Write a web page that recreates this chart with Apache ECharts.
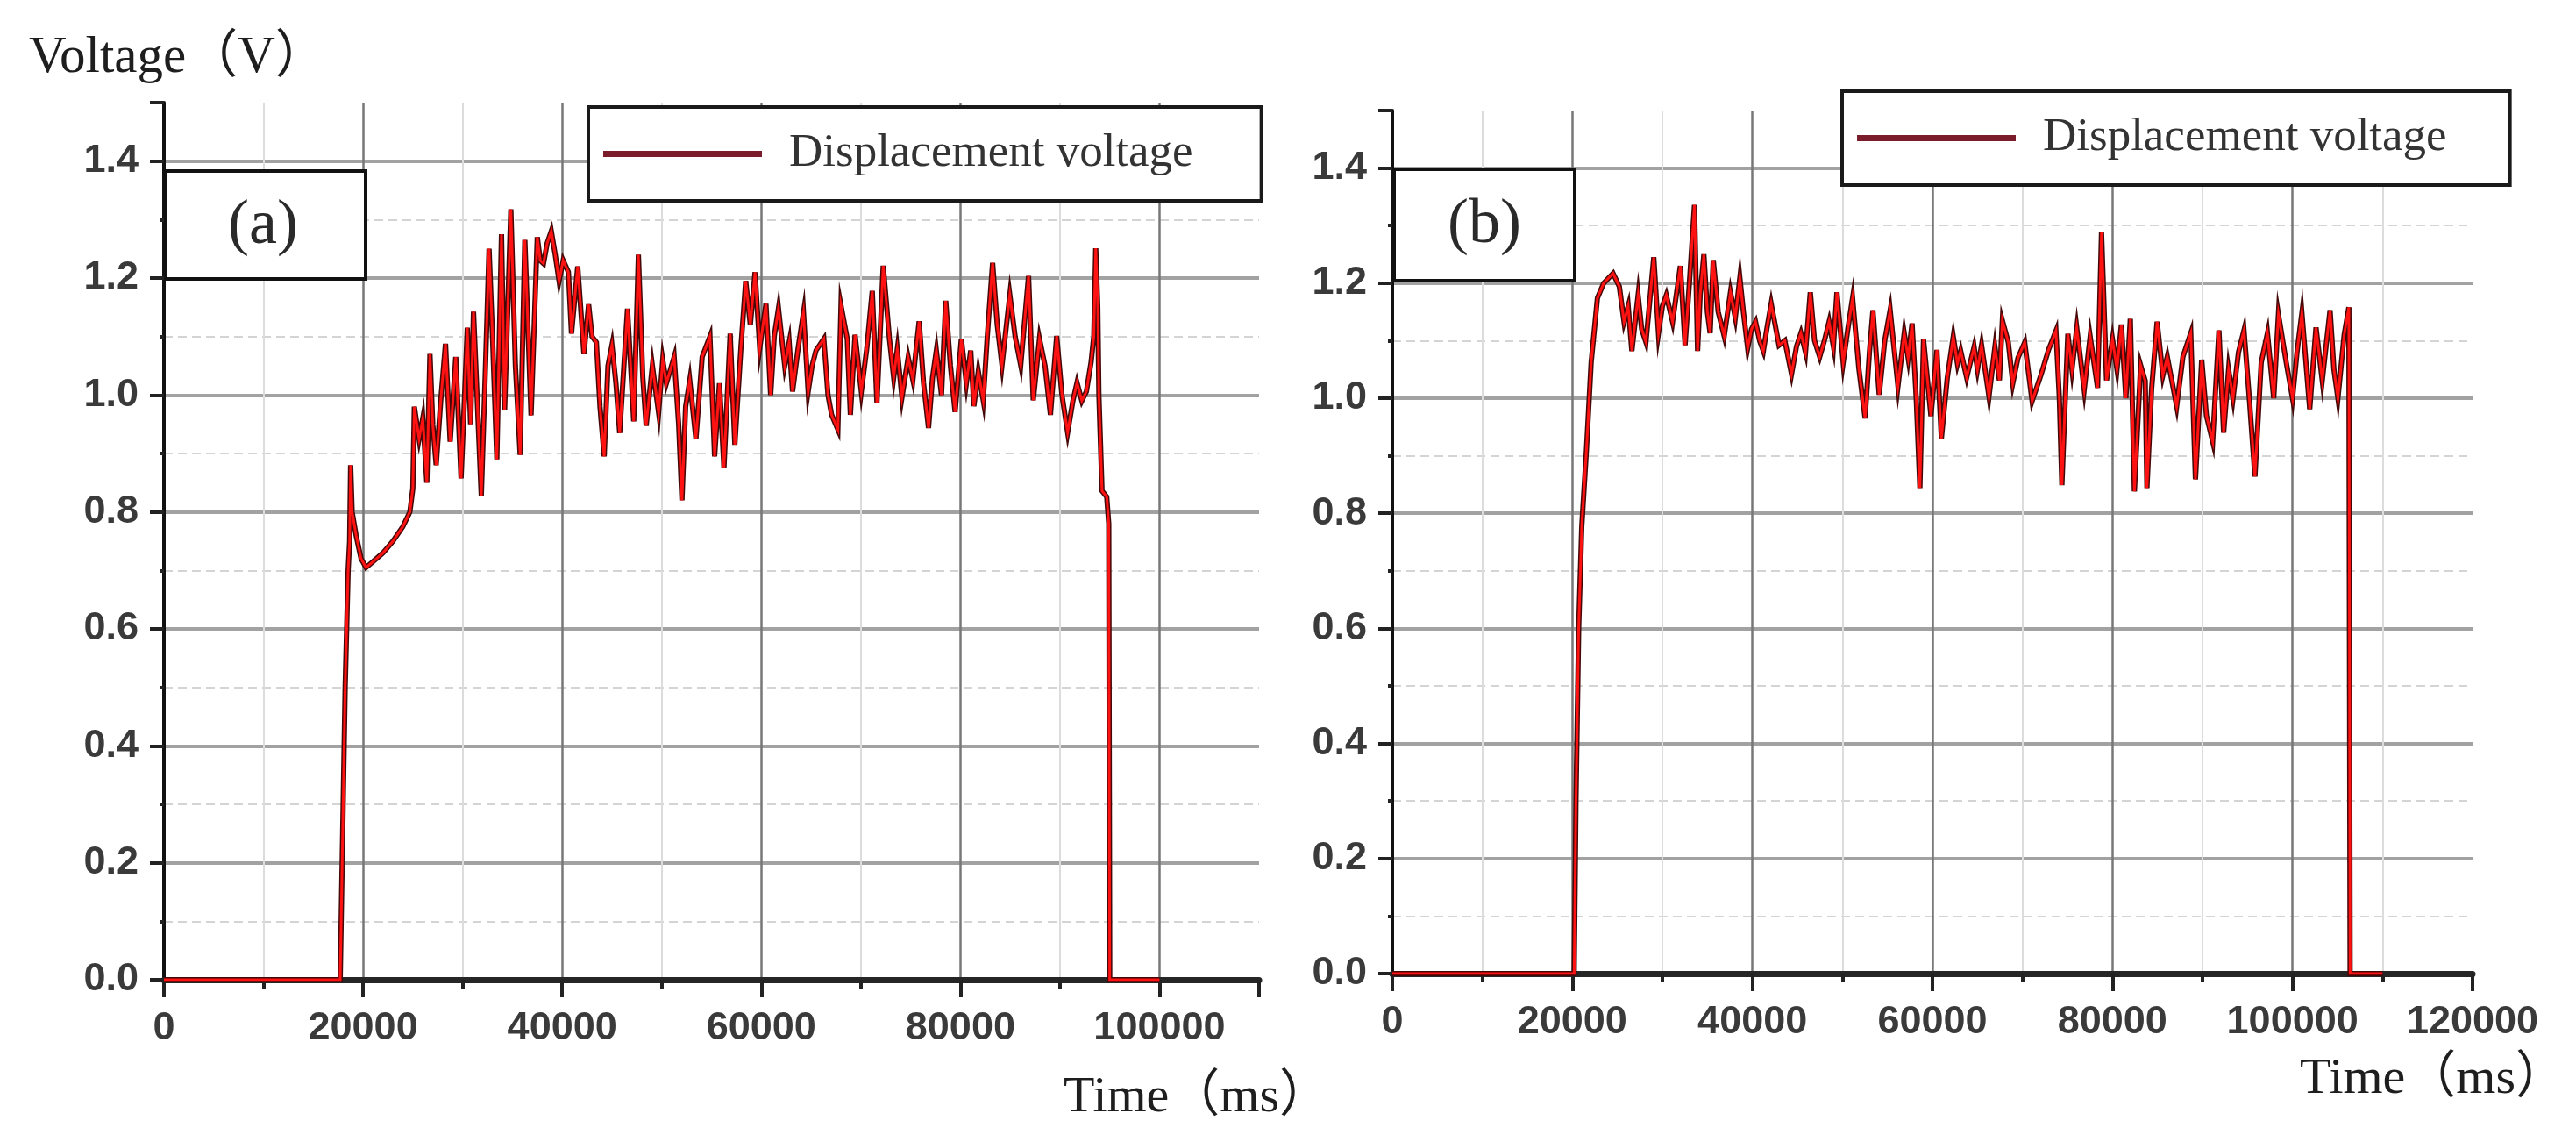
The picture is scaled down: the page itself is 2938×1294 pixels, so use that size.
<!DOCTYPE html>
<html>
<head>
<meta charset="utf-8">
<script src="https://cdn.jsdelivr.net/npm/echarts@6/dist/echarts.min.js"></script>
<style>
html,body{margin:0;padding:0;background:#fff;}
#chart{width:2938px;height:1294px;}
</style>
</head>
<body>
<div id="chart"></div>
<script>
// ---- Panel (a) ----
var timeA = [0,17700,17900,18200,18500,18650,18750,18900,19300,19800,20300,21000,22000,23000,24000,24700,25000,25150,25625,26000,26406,26719,27000,27344,27800,28281,28750,29312,29844,30200,30469,30800,31094,31875,32300,32656,33000,33437,33906,34219,34844,35300,35781,36250,36875,37500,37800,38125,38500,38906,39300,39687,40100,40625,40937,41562,42187,42656,43000,43437,43800,44219,44600,45000,45400,45781,46200,46562,47187,47656,48100,48437,49062,49687,50100,50469,51250,51700,52031,52400,52812,53437,54062,54844,55312,55800,56250,56875,57344,57969,58437,58900,59375,59844,60469,60942,61300,61727,62355,62800,63140,63700,64239,64710,65100,65495,66280,66700,67065,67693,68007,68635,68949,69420,70048,70600,71147,71618,72246,72874,73300,73659,74130,74758,75229,75857,76300,76799,77200,77584,78100,78526,79000,79468,80096,80600,81038,81352,81800,82294,82700,83236,83700,84178,84963,85500,86062,86847,87318,87946,88500,89045,89673,90200,90772,91300,91714,92200,92656,93127,93400,93598,93800,93912,94226,94697,94900,95000,100000];
var voltA = [0,0,0.2,0.5,0.7,0.75,0.88,0.80,0.76,0.72,0.705,0.715,0.73,0.75,0.775,0.80,0.84,0.98,0.925,0.96,0.85,1.07,0.95,0.88,0.99,1.0875,0.92,1.065,0.8575,1.0,1.115,0.95,1.1425,0.8275,1.05,1.25,1.1,0.89,1.275,0.975,1.3175,1.05,0.8975,1.265,0.965,1.27,1.23,1.225,1.26,1.28,1.24,1.195,1.23,1.21,1.105,1.22,1.07,1.155,1.1,1.09,0.98,0.895,1.05,1.085,1.02,0.935,1.05,1.1475,0.955,1.24,1.03,0.9475,1.05,0.97,1.06,1.02,1.065,0.95,0.82,0.98,1.025,0.925,1.065,1.10,0.895,1.02,0.875,1.105,0.915,1.085,1.195,1.12,1.21,1.08,1.156,1.0,1.10,1.148,1.05,1.09,1.006,1.08,1.141,1.006,1.05,1.076,1.096,1.0,0.966,0.941,1.153,1.096,0.966,1.103,1.006,1.08,1.178,0.986,1.221,1.096,1.03,1.078,0.996,1.064,1.026,1.126,1.02,0.9435,1.03,1.076,1.0,1.161,1.05,0.971,1.096,1.02,1.076,0.981,1.04,0.991,1.10,1.226,1.12,1.051,1.171,1.1,1.051,1.2035,0.991,1.096,1.05,0.966,1.101,1.0,0.936,0.99,1.021,0.99,1.006,1.056,1.1,1.251,1.15,1.0,0.836,0.826,0.78,0,0];

// ---- Panel (b) ----
var timeB = [0,20200,20400,20700,21043,21565,22087,22782,23478,24521,25217,25739,26200,26608,27304,27700,28173,29043,29565,30000,30434,31130,31999,32521,33000,33564,33912,34200,34608,35000,35303,35651,36200,36868,37564,38100,38607,39000,39477,39900,40346,40800,41216,41600,42085,42955,43600,44346,44900,45389,45900,46433,46900,47476,48000,48520,49000,49389,50085,50600,51128,51824,52520,53000,53389,54085,54700,55302,56171,56867,57300,57737,58200,58606,59008,59835,60496,60992,61653,62314,62780,63140,63802,64628,65000,65455,66281,66942,67438,67769,68430,68926,69500,70248,71074,72066,72893,73719,74100,74380,75042,75500,76033,76860,77521,78347,78783,79339,80000,80500,80992,81488,81984,82435,83130,83637,83826,84348,84959,85600,86087,86600,87130,87826,88696,89217,89913,90435,91130,91826,92348,92900,93391,94000,94609,95200,95826,96522,97217,97913,98435,99304,100000,100500,101043,101913,102609,103304,104174,104600,105043,105739,106261,106400,110000];
var voltB = [0,0,0.3,0.6,0.777,0.91,1.062,1.174,1.20,1.217,1.194,1.133,1.16,1.082,1.179,1.12,1.0975,1.245,1.113,1.16,1.179,1.133,1.23,1.092,1.2,1.336,1.082,1.18,1.25,1.15,1.113,1.24,1.15,1.108,1.184,1.14,1.209,1.15,1.087,1.12,1.133,1.10,1.082,1.12,1.164,1.092,1.10,1.042,1.09,1.113,1.08,1.184,1.10,1.072,1.10,1.133,1.09,1.184,1.062,1.12,1.174,1.052,0.965,1.08,1.153,1.006,1.10,1.153,1.021,1.113,1.07,1.13,1.0,0.844,1.102,0.969,1.084,0.93,1.036,1.107,1.06,1.082,1.036,1.089,1.05,1.092,1.003,1.089,1.031,1.135,1.097,1.026,1.07,1.097,0.995,1.041,1.084,1.117,1.0,0.849,1.112,1.05,1.122,1.015,1.107,1.018,1.288,1.031,1.102,1.05,1.128,1.0,1.138,0.838,1.057,1.03,0.844,1.016,1.133,1.04,1.072,1.03,0.986,1.072,1.113,0.859,1.067,0.97,0.925,1.118,0.94,1.05,1.0,1.08,1.118,1.0,0.864,1.062,1.113,1.0,1.146,1.062,1.0,1.08,1.148,0.981,1.123,1.031,1.153,1.05,1.0,1.11,1.158,0,0];

var seriesName = 'Displacement voltage';
var yTickLabels = ['0.0','0.2','0.4','0.6','0.8','1.0','1.2','1.4'];
var xTickLabelsA = ['0','20000','40000','60000','80000','100000'];
var xTickLabelsB = ['0','20000','40000','60000','80000','100000','120000'];

function zip(t, v){ var out=[]; for(var i=0;i<t.length;i++){ out.push([t[i], v[i]]); } return out; }
var dataA = zip(timeA, voltA);
var dataB = zip(timeB, voltB);

var tickFont = {fontFamily:'"Liberation Sans Narrow", "Liberation Sans", sans-serif', fontSize:45, fontWeight:'bold', color:'#3a3a3a'};
var CLEAR = 'rgba(0,0,0,0)';

function xAxisMajor(grid, max, labels){
  return {
    type:'value', gridIndex:grid, min:0, max:max, interval:20000, position:'bottom',
    axisLine:{show:true, onZero:false, lineStyle:{color:'#262626', width:7}},
    axisTick:{show:true, length:20, lineStyle:{color:'#222', width:4}},
    axisLabel:Object.assign({margin:33, formatter:function(v){ var s=String(Math.round(v)); return labels.indexOf(s)>=0 ? s : ''; }}, tickFont),
    splitLine:{show:true, showMinLine:false, showMaxLine:false, lineStyle:{color:'#777', width:2.5}}
  };
}
function xAxisMinor(grid, max){
  return {
    type:'value', gridIndex:grid, min:0, max:max, interval:10000, position:'bottom',
    axisLine:{show:false, onZero:false}, axisLabel:{show:false},
    axisTick:{show:true, length:10, lineStyle:{color:'#222', width:4}},
    splitLine:{show:true, showMaxLine:false, lineStyle:{color:[CLEAR,'#dcdcdc'], width:2}}
  };
}
function yAxisMajor(grid){
  return {
    type:'value', gridIndex:grid, min:0, max:1.5, interval:0.2, position:'left',
    axisLine:{show:true, onZero:false, lineStyle:{color:'#111', width:4}},
    axisTick:{show:true, length:16, lineStyle:{color:'#222', width:4}},
    axisLabel:Object.assign({margin:29, formatter:function(v){ var s=(Math.round(v*10)/10).toFixed(1); return yTickLabels.indexOf(s)>=0 ? s : ''; }}, tickFont),
    splitLine:{show:true, showMinLine:false, showMaxLine:false, lineStyle:{color:'#a2a2a2', width:4}}
  };
}
function yAxisMinor(grid){
  return {
    type:'value', gridIndex:grid, min:0, max:1.5, interval:0.1, position:'left',
    axisLine:{show:false, onZero:false}, axisLabel:{show:false},
    axisTick:{show:true, length:5, lineStyle:{color:'#222', width:4}},
    splitLine:{show:true, showMaxLine:false, lineStyle:{color:[CLEAR,'#d4d4d4'], width:2, type:[10,6]}}
  };
}
function traceSeries(name, xi, yi, data, color, width, z){
  return {type:'line', name:name, xAxisIndex:xi, yAxisIndex:yi, data:data, showSymbol:false, symbol:'none',
    lineStyle:{color:color, width:width, join:'miter'}, itemStyle:{color:color}, z:z, animation:false};
}
function legendCfg(left, top, padRight){
  return {
    left:left, top:top, orient:'horizontal',
    data:[{name:seriesName, icon:'rect', itemStyle:{color:'#7a1c2a'}}],
    itemWidth:181, itemHeight:7,
    padding:[27,padRight,27,17],
    backgroundColor:'#fff', borderColor:'#1a1a1a', borderWidth:4,
    textStyle:{fontFamily:'"Liberation Serif", serif', fontSize:53, color:'#333', padding:[0,0,0,26]},
    selectedMode:false
  };
}
var serif = '"Liberation Serif", "Noto Sans CJK SC", serif';

var option = {
  backgroundColor:'#fff',
  animation:false,
  grid:[
    {left:187, top:117, width:1249, height:1000},
    {left:1588, top:126, width:1232, height:984}
  ],
  xAxis:[ xAxisMajor(0, 110000, xTickLabelsA), xAxisMinor(0, 110000), xAxisMajor(1, 120000, xTickLabelsB), xAxisMinor(1, 120000) ],
  yAxis:[ yAxisMajor(0), yAxisMinor(0), yAxisMajor(1), yAxisMinor(1) ],
  legend:[ legendCfg(671,122,78), legendCfg(2101,104,72) ],
  series:[
    traceSeries(seriesName, 0, 0, dataA, '#450808', 6, 3),
    traceSeries(seriesName+' trace', 0, 0, dataA, '#ff1212', 3, 4),
    traceSeries(seriesName, 2, 2, dataB, '#450808', 6, 3),
    traceSeries(seriesName+' trace', 2, 2, dataB, '#ff1212', 3, 4)
  ],
  graphic:[
    {type:'rect', z:10, shape:{x:189, y:195, width:228, height:123}, style:{fill:'#fff', stroke:'#111', lineWidth:4}},
    {type:'text', z:11, x:300, y:258, style:{text:'(a)', font:'72px "Liberation Serif"', fill:'#2a2a2a', align:'center', verticalAlign:'middle'}},
    {type:'rect', z:10, shape:{x:1590, y:193, width:206, height:127}, style:{fill:'#fff', stroke:'#111', lineWidth:4}},
    {type:'text', z:11, x:1693, y:257, style:{text:'(b)', font:'72px "Liberation Serif"', fill:'#2a2a2a', align:'center', verticalAlign:'middle'}},
    {type:'text', z:11, x:33, y:66, style:{text:'Voltage（V）', font:'59px ' + serif, fill:'#1e1e1e', align:'left', verticalAlign:'middle'}},
    {type:'text', z:11, x:1213, y:1252, style:{text:'Time（ms）', font:'58px ' + serif, fill:'#1e1e1e', align:'left', verticalAlign:'middle'}},
    {type:'text', z:11, x:2623, y:1231, style:{text:'Time（ms）', font:'58px ' + serif, fill:'#1e1e1e', align:'left', verticalAlign:'middle'}}
  ]
};
var chart = echarts.init(document.getElementById('chart'), null, {renderer:'canvas'});
chart.setOption(option);
</script>
</body>
</html>
